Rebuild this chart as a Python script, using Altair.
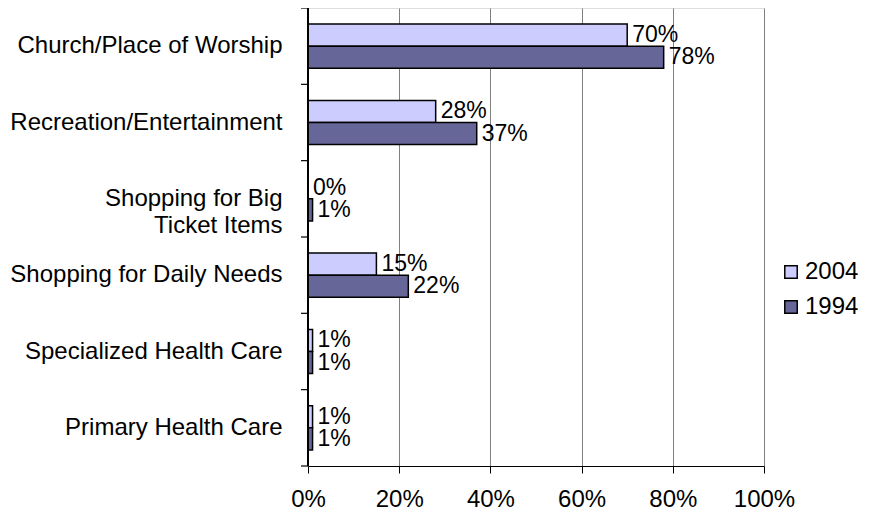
import altair as alt
import pandas as pd

categories = [
    "Church/Place of Worship",
    "Recreation/Entertainment",
    "Shopping for Big Ticket Items",
    "Shopping for Daily Needs",
    "Specialized Health Care",
    "Primary Health Care",
]
series = ["2004", "1994"]
values_2004 = [0.70, 0.28, 0.00, 0.15, 0.01, 0.01]
values_1994 = [0.78, 0.37, 0.01, 0.22, 0.01, 0.01]
colors = ["#CCCCFF", "#666699"]
x_ticks = [0, 0.2, 0.4, 0.6, 0.8, 1.0]
boundaries = [0, 1, 2, 3, 4, 5, 6]

rows = []
for c, a, b in zip(categories, values_2004, values_1994):
    rows.append({"category": c, "year": "2004", "value": a})
    rows.append({"category": c, "year": "1994", "value": b})
df = pd.DataFrame(rows)
bdf = pd.DataFrame({"b": boundaries})

FONT = "Liberation Sans"
FS = 24

y_enc = alt.Y(
    "category:N",
    sort=categories,
    scale=alt.Scale(paddingInner=0, paddingOuter=0),
    axis=alt.Axis(
        title=None,
        ticks=False,
        domain=False,
        labelFontSize=FS,
        labelFont=FONT,
        labelColor="black",
        labelPadding=26,
        labelLimit=400,
        labelExpr="datum.label == 'Shopping for Big Ticket Items' ? ['Shopping for Big', 'Ticket Items'] : datum.label",
        labelLineHeight=27,
    ),
)
yoff = alt.YOffset(
    "year:N",
    sort=series,
    scale=alt.Scale(paddingInner=0, paddingOuter=0.73),
)
x_enc = alt.X(
    "value:Q",
    scale=alt.Scale(domain=[0, 1]),
    axis=alt.Axis(
        title=None,
        values=x_ticks,
        format=".0%",
        labelFontSize=FS,
        labelFont=FONT,
        labelColor="black",
        labelPadding=14,
        labelFlush=False,
        labelOverlap=False,
        tickColor="black",
        tickSize=7,
        domainColor="black",
        domainWidth=1.2,
        grid=True,
        gridColor="#808080",
        gridWidth=1,
    ),
)

bars = alt.Chart(df).mark_bar(stroke="black", strokeWidth=1.5).encode(
    y=y_enc,
    yOffset=yoff,
    x=x_enc,
    fill=alt.Fill(
        "year:N",
        sort=series,
        scale=alt.Scale(domain=series, range=colors),
        legend=alt.Legend(
            title=None,
            orient="none",
            legendX=471,
            legendY=252,
            symbolType="square",
            symbolSize=155,
            symbolStrokeColor="black",
            symbolStrokeWidth=1.5,
            labelFontSize=FS,
            labelFont=FONT,
            labelColor="black",
            labelOffset=2,
            rowPadding=11,
        ),
    ),
)

labels = alt.Chart(df).mark_text(
    align="left", baseline="middle", dx=5, fontSize=23, font=FONT, color="black"
).encode(
    y=alt.Y("category:N", sort=categories),
    yOffset=alt.YOffset("year:N", sort=series),
    x=alt.X("value:Q"),
    text=alt.Text("value:Q", format=".0%"),
)

main = alt.layer(bars, labels)

left_axis = alt.Chart(bdf).mark_rule(color="black", strokeWidth=1.2).encode(
    y=alt.Y("b:Q", scale=alt.Scale(domain=[0, 6], reverse=True), axis=None),
    x=alt.value(-7),
    x2=alt.value(0),
)
left_line = alt.Chart(bdf).mark_rule(color="black", strokeWidth=1.2).encode(
    x=alt.value(0),
    y=alt.value(0),
    y2=alt.value(458),
)

chart = (
    alt.layer(main, left_axis, left_line)
    .resolve_scale(y="independent")
    .properties(
        width=456,
        height=458,
        autosize=alt.AutoSizeParams(type="none"),
        padding={"left": 300, "top": 0, "right": 100, "bottom": 51},
    )
    .configure_view(stroke=None)
    .configure(background="white")
)

chart.save("out.html", embed_options={"renderer": "svg", "actions": False})
